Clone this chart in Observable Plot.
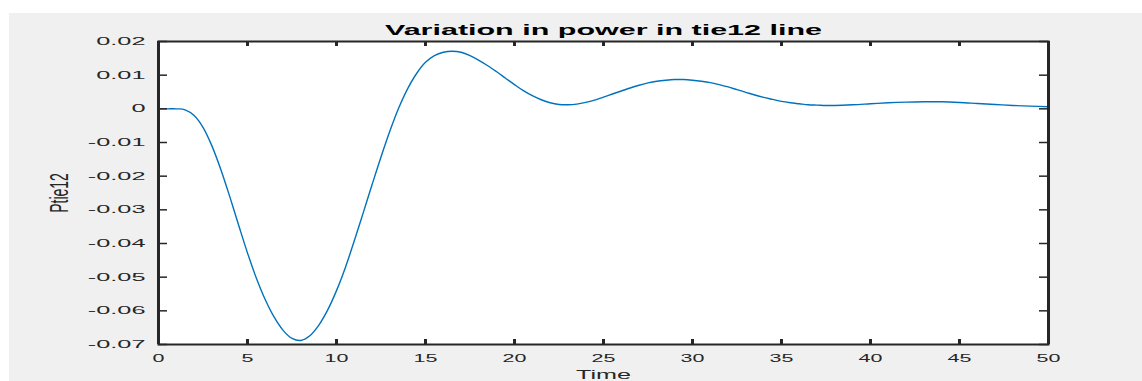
<!DOCTYPE html>
<html>
<head>
<meta charset="utf-8">
<script src="https://cdn.jsdelivr.net/npm/d3@7"></script>
<script src="https://cdn.jsdelivr.net/npm/@observablehq/plot@0.6"></script>
<style>
  html, body { margin: 0; padding: 0; background: #ffffff; }
  #panel { position: absolute; left: 9px; top: 13px; width: 1133px; height: 368px; background: #f0f0f0; }
  #chart { position: absolute; left: 0; top: 0; }
</style>
</head>
<body>
<div id="panel"></div>
<div id="chart"></div>
<script>
// Tie-line power deviation over time
const time = [
  0, 0.5, 1, 1.5, 2, 2.5, 3, 3.5, 4, 4.5, 5, 5.5, 6, 6.5, 7, 7.5, 8, 8.5, 9, 9.5,
  10, 10.5, 11, 11.5, 12, 12.5, 13, 13.5, 14, 14.5, 15, 15.5, 16, 16.5, 17, 17.5, 18, 18.5, 19, 19.5,
  20, 20.5, 21, 21.5, 22, 22.5, 23, 23.5, 24, 24.5, 25, 25.5, 26, 26.5, 27, 27.5, 28, 28.5, 29, 29.5,
  30, 30.5, 31, 31.5, 32, 32.5, 33, 33.5, 34, 34.5, 35, 35.5, 36, 36.5, 37, 37.5, 38,
  39, 40, 41, 42, 43, 44, 45, 46, 47, 48, 49, 50
];
const ptie12 = [
  0, 0, 0, -0.0003, -0.0020, -0.0055, -0.0110, -0.0180, -0.0260, -0.0345,
  -0.0428, -0.0503, -0.0567, -0.0619, -0.0658, -0.0682, -0.0688, -0.0674, -0.0643, -0.0598,
  -0.0540, -0.0471, -0.0392, -0.0309, -0.0225, -0.0143, -0.0066, 0.0003, 0.0060, 0.0105,
  0.0138, 0.0158, 0.0168, 0.0171, 0.0168, 0.0158, 0.0144, 0.0128, 0.0110, 0.0091,
  0.0072, 0.0054, 0.0039, 0.0027, 0.0018, 0.0013, 0.0012, 0.0014, 0.0019, 0.0026,
  0.0035, 0.0044, 0.0053, 0.0062, 0.0070, 0.0077, 0.0082, 0.0085, 0.0087, 0.0087,
  0.0085, 0.0082, 0.0078, 0.0072, 0.0065, 0.0057, 0.0049, 0.0041, 0.0034, 0.0028,
  0.0022, 0.0018, 0.0015, 0.0012, 0.0011, 0.0010, 0.0010,
  0.0012, 0.0015, 0.0018, 0.0020, 0.0021, 0.0021, 0.0019, 0.0016, 0.0013, 0.0010, 0.0008, 0.0006
];

const xTicks = [0, 5, 10, 15, 20, 25, 30, 35, 40, 45, 50];
const yTicks = [-0.07, -0.06, -0.05, -0.04, -0.03, -0.02, -0.01, 0, 0.01, 0.02];

const titleText = "Variation in power in tie12 line";
const xLabel = "Time";
const yLabel = "Ptie12";

const rows = time.map((t, i) => ({t, p: ptie12[i]}));

const W = 1142, H = 381;
const mL = 158, mR = 94, mT = 41, mB = 37;
const fw = W - mL - mR, fh = H - mT - mB;
const ink = "#262626";

const chart = Plot.plot({
  width: W,
  height: H,
  marginLeft: mL,
  marginRight: mR,
  marginTop: mT,
  marginBottom: mB,
  style: {background: "transparent", fontFamily: "'Liberation Sans', Arial, sans-serif", color: ink},
  x: {domain: [0, 50]},
  y: {domain: [-0.07, 0.02]},
  marks: [
    Plot.frame({fill: "white"}),
    Plot.line(rows, {x: "t", y: "p", stroke: "#0072BD", strokeWidth: 1.4, curve: "catmull-rom"}),
    // inward tick marks on all four sides
    Plot.tickX(xTicks, {x: d => d, stroke: ink, strokeWidth: 3, insetTop: fh - 5}),
    Plot.tickX(xTicks, {x: d => d, stroke: ink, strokeWidth: 3, insetBottom: fh - 5}),
    Plot.tickY(yTicks, {y: d => d, stroke: ink, strokeWidth: 1.5, insetRight: fw - 9}),
    Plot.tickY(yTicks, {y: d => d, stroke: ink, strokeWidth: 1.5, insetLeft: fw - 9}),
    Plot.frame({stroke: ink, strokeWidth: 2}),
    Plot.ruleX([0, 50], {stroke: ink, strokeWidth: 3}),
    Plot.axisX(xTicks, {anchor: "bottom", tickSize: 0, tickPadding: 10, fontSize: 11, fill: ink, label: null}),
    Plot.axisY(yTicks, {anchor: "left", tickSize: 0, tickPadding: 13, fontSize: 11, fill: ink, label: null,
      tickFormat: d => d === 0 ? "0" : d.toFixed(2)}),
    Plot.text([titleText], {text: d => d, frameAnchor: "top", dy: -11.5, lineAnchor: "middle",
      textAnchor: "middle", fontWeight: "bold", fontSize: 15, fill: "#000"}),
    Plot.text([xLabel], {text: d => d, frameAnchor: "bottom", dy: 30.5, lineAnchor: "middle",
      textAnchor: "middle", fontSize: 13.5, fill: ink}),
    Plot.text([yLabel], {text: d => d, frameAnchor: "left", dx: -99.5, rotate: -90, lineAnchor: "middle",
      textAnchor: "middle", fontSize: 14, fill: ink})
  ]
});

document.getElementById("chart").appendChild(chart);

// Widen the lettering horizontally, as in the figure's original export
function widen(el, target) {
  el.setAttribute("textLength", target);
  el.setAttribute("lengthAdjust", "spacingAndGlyphs");
}
d3.select(chart).selectAll("text").each(function () {
  const s = this.textContent;
  const parent = this.parentNode.getAttribute("aria-label") || "";
  if (s === titleText) widen(this, 437);
  else if (s === xLabel) widen(this, 55);
  else if (s === yLabel) {
    const tr = this.getAttribute("transform") || "";
    this.setAttribute("transform", tr + " scale(1,1.9)");
  } else if (parent.includes("y-axis")) widen(this, this.getComputedTextLength() * 2.3);
  else widen(this, this.getComputedTextLength() * 1.95);
});
</script>
</body>
</html>
